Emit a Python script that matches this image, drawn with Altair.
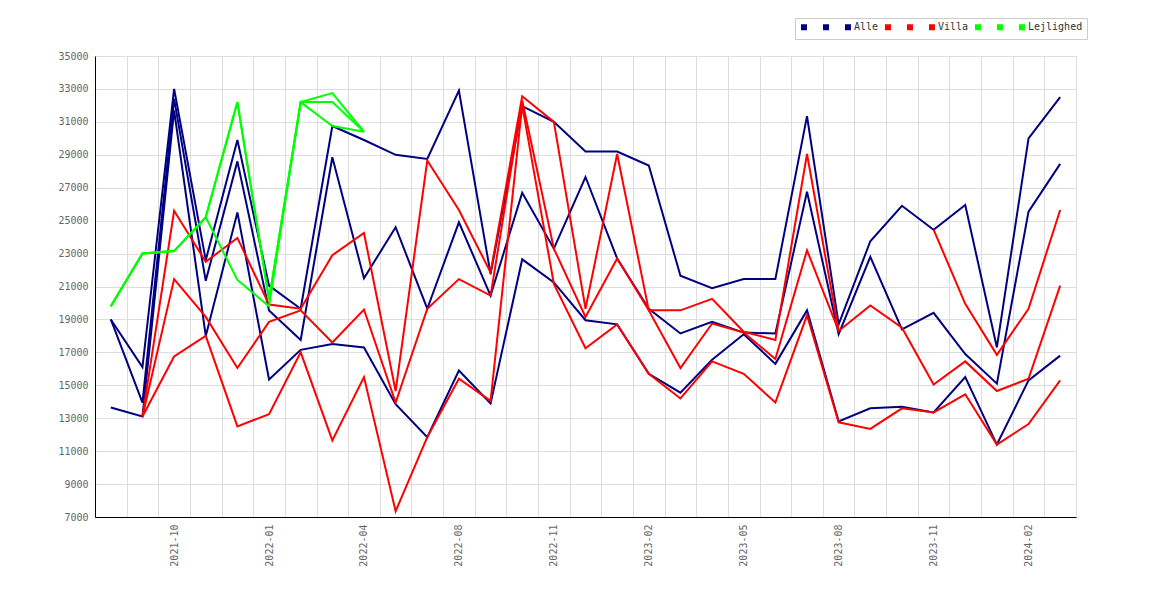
import altair as alt
import pandas as pd

months = ["2021-08", "2021-09", "2021-10", "2021-11", "2021-12", "2022-01", "2022-02",
          "2022-03", "2022-04", "2022-05", "2022-06", "2022-08", "2022-09", "2022-10",
          "2022-11", "2022-12", "2023-01", "2023-02", "2023-03", "2023-04", "2023-05",
          "2023-06", "2023-07", "2023-08", "2023-09", "2023-10", "2023-11", "2023-12",
          "2024-01", "2024-02", "2024-03"]

alle_a = [19000, 16100, 33000, 22600, 29900, 21050, 19650, 30750, 29900, 29000, 28750,
          32900, 21750, 31950, 31000, 29200, 29200, 28350, 21650, 20900, 21450, 21450,
          31350, 18700, 23750, 25900, 24450, 25950, 17300, 30000, 32500]
alle_b = [19000, 13950, 32400, 21350, 28600, 19550, 17750, 28850, 21500, 24600, 19650,
          24900, 20450, 26700, 23300, 27650, 22700, 19650, 18150, 18850, 18200, 18150,
          26750, 18100, 22800, 18400, 19400, 16900, 15100, 25550, 28450]
alle_c = [13650, 13100, 31700, 18000, 25500, 15350, 17150, 17500, 17300, 13850, 11850,
          15900, 13900, 22650, 21250, 18950, 18700, 15700, 14550, 16550, 18100, 16300,
          19550, 12800, 13600, 13700, 13350, 15500, 11400, 15300, 16800]

villa_a = [None, 13100, 25600, 22500, 23950, 19900, 19650, 22900, 24250, 14650, 28650,
           25650, 21850, 32550, 31000, 19650, 29050, 19550, 16050, 18750, 18200, 16600,
           23200, 18300, 19850, 18500, 15050, 16450, 14650, 15400, 21050]
villa_b = [None, 13100, 21450, 19150, 16050, 18850, 19550, 17600, 19600, 13950, 19650,
           21450, 20450, 32300, 23300, 19150, 22700, 19550, 19550, 20250, 18250, 17750,
           29050, 18300, None, None, 24450, 19950, 16850, 19650, 25650]
villa_c = [None, 13100, 16750, 18000, 12500, 13250, 17000, 11650, 15500, 7350, 11850,
           15400, 14050, 32000, 21150, 17250, 18700, 15700, 14200, 16450, 15700, 13950,
           19250, 12750, 12350, 13600, 13350, 14450, 11400, 12650, 15300]

lejl_a = [19800, 23000, 23150, 25200, 32200, 20200, 32200, 32750, 30400]
lejl_b = [19800, 23000, 23150, 25200, 21400, 19800, 32200, 30750, 30400]
lejl_c = [19800, 23000, 23150, 25200, 32200, 20200, 32200, 32200, 30400]

series_names = ["Alle_1", "Alle_2", "Alle", "Villa_1", "Villa_2", "Villa",
                "Lejlighed_1", "Lejlighed_2", "Lejlighed"]
series_values = [alle_a, alle_b, alle_c, villa_a, villa_b, villa_c, lejl_a, lejl_b, lejl_c]
series_colors = ["#000080", "#000080", "#000080", "#ff0000", "#ff0000", "#ff0000",
                 "#00ff00", "#00ff00", "#00ff00"]
y_ticks = list(range(7000, 35001, 2000))

rows = []
for name, vals in zip(series_names, series_values):
    for i, v in enumerate(vals):
        rows.append({"i": i, "value": v, "series": name})
df = pd.DataFrame(rows)

x_values = [k / 2 - 0.5 for k in range(2 * len(months) + 1)]
label_js = "[" + ",".join("'" + m + "'" for m in months) + "]"
label_expr = ("(datum.value % 1 === 0 && datum.value % 3 === 2) ? "
              + label_js + "[datum.value] : ''")

mono = "DejaVu Sans Mono"

chart = alt.Chart(df).mark_line(strokeWidth=2).encode(
    x=alt.X("i:Q",
            scale=alt.Scale(domain=[-0.5, len(months) - 0.5], nice=False, zero=False),
            axis=alt.Axis(values=x_values, title=None, labelExpr=label_expr,
                          labelAngle=270, labelOverlap=False, labelFont=mono,
                          labelFontSize=10, labelColor="#666", labelPadding=7,
                          ticks=False, grid=True, gridColor="#dddddd",
                          gridOpacity={"condition": {"test": "datum.value % 1 !== 0", "value": 1},
                                       "value": 0},
                          domainColor="#000000", domainWidth=1, labelFlush=False)),
    y=alt.Y("value:Q",
            scale=alt.Scale(domain=[7000, 35000], nice=False, zero=False),
            axis=alt.Axis(values=y_ticks, format="d", title=None, labelFont=mono,
                          labelFontSize=10, labelColor="#666", labelPadding=7,
                          ticks=False, grid=True, gridColor="#dddddd",
                          domainColor="#000000", domainWidth=1)),
    color=alt.Color("series:N",
                    scale=alt.Scale(domain=series_names, range=series_colors),
                    sort=series_names,
                    legend=alt.Legend(title=None, orient="none", legendX=700, legendY=-38,
                                      direction="horizontal", columns=9,
                                      symbolType="square", symbolSize=9,
                                      symbolStrokeWidth=3, labelFont=mono,
                                      labelFontSize=10, labelColor="#333",
                                      labelOffset=1, columnPadding=1, padding=4,
                                      strokeColor="#cccccc",
                                      labelExpr="indexof(datum.label, '_') >= 0 ? '\u2800' : datum.label")),
    detail="series:N",
).properties(
    width=981, height=461,
    padding={"left": 87, "top": 48, "right": 60, "bottom": 60},
    autosize=alt.AutoSizeParams(type="none"),
).configure_view(stroke=None)

chart.save("out.html", embed_options={"renderer": "svg", "actions": False})
